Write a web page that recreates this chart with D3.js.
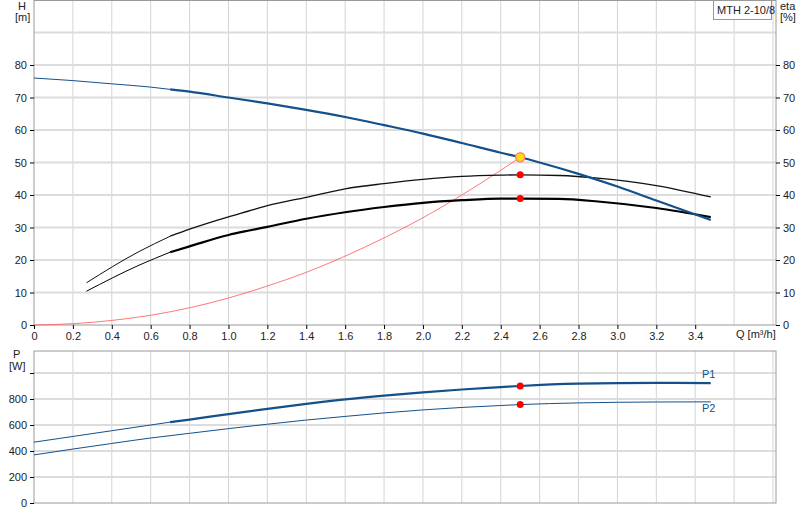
<!DOCTYPE html>
<html><head><meta charset="utf-8">
<script src="https://cdn.jsdelivr.net/npm/d3@7"></script>
<style>body{margin:0;background:#fff}text{font-family:"Liberation Sans",Arial,sans-serif;font-size:11px;fill:#222}</style>
</head><body><svg id="c" width="800" height="520"></svg>
<script>
const xTicks=[0,0.2,0.4,0.6,0.8,1.0,1.2,1.4,1.6,1.8,2.0,2.2,2.4,2.6,2.8,3.0,3.2,3.4];
const hTicks=[0,10,20,30,40,50,60,70,80];
const pTicks=[0,200,400,600,800];
const hQ=[0,0.2,0.4,0.6,0.7,0.8,1.0,1.2,1.4,1.6,1.8,2.0,2.2,2.4,2.5,2.6,2.8,3.0,3.2,3.48];
const hV=[76,75.2,74.2,73.2,72.5,71.8,70,68.2,66.2,64,61.5,58.9,56,53,51.6,50,46.5,42.6,38.3,32.3];
const eQ=[0.27,0.54,0.7,0.8,1.0,1.1,1.2,1.4,1.6,1.8,2.0,2.2,2.4,2.5,2.7,2.9,3.2,3.48];
const e1V=[13,22.6,27.3,29.5,33.3,35,36.7,39.3,41.9,43.5,44.8,45.7,46.1,46.2,46,45.2,42.9,39.4];
const e2V=[10.4,18.4,22.4,24.2,27.7,29,30.2,32.7,34.7,36.3,37.6,38.4,38.9,38.9,38.8,38,36,33.2];
const sQ=[0,0.2,0.4,0.6,0.8,1.0,1.2,1.4,1.6,1.8,2.0,2.2,2.4,2.5];
const sV=[0,0.4,1.4,3,5.3,8.3,12,16.2,21.2,26.8,33,40,47.6,51.6];
const pQ=[0,0.2,0.4,0.6,0.7,0.8,1.0,1.2,1.4,1.6,1.8,2.0,2.2,2.4,2.5,2.8,3.2,3.48];
const p1V=[468,512,556,600,622,642,684,724,762,797,826,851,873,891,900,918,924,922];
const p2V=[370,415,458,500,518,536,572,606,638,666,693,716,735,750,757,770,777,778];
const duty={q:2.5,h:51.6,e1:46.2,e2:38.9,p1:900,p2:757};

const svg=d3.select("#c");
const x=d3.scaleLinear().domain([0,3.8]).range([34,773]);
const yH=d3.scaleLinear().domain([0,100]).range([325,0]);
const yP=d3.scaleLinear().domain([0,1000]).range([503,373]);
const grid="#d4d4d4";
function frame(y0,y1){
  svg.append("rect").attr("x",34).attr("y",y0).attr("width",742).attr("height",y1-y0).attr("fill","none").attr("stroke","#999");
}
const gT=svg.append("g");
d3.range(0.2,3.81,0.2).forEach(v=>gT.append("line").attr("x1",x(v)).attr("x2",x(v)).attr("y1",0).attr("y2",325).attr("stroke",grid));
d3.range(10,91,10).forEach(v=>gT.append("line").attr("x1",34).attr("x2",776).attr("y1",yH(v)).attr("y2",yH(v)).attr("stroke","#dcdcdc").attr("stroke-width",2));
frame(0.5,325);
svg.append("g").attr("transform","translate(34,0)").call(d3.axisLeft(yH).tickValues(hTicks).tickSize(4).tickFormat(d3.format("d"))).call(g=>g.select(".domain").remove());
svg.append("g").attr("transform","translate(776,0)").call(d3.axisRight(yH).tickValues(hTicks).tickSize(4).tickFormat(d3.format("d"))).call(g=>g.select(".domain").remove());
svg.append("g").attr("transform","translate(0,325)").call(d3.axisBottom(x).tickValues(xTicks).tickSize(4).tickFormat(d=>d===0?"0":d3.format(".1f")(d))).call(g=>g.select(".domain").remove());
svg.append("text").attr("x",736).attr("y",338).text("Q [m³/h]");
svg.append("text").attr("x",18).attr("y",10).text("H");
svg.append("text").attr("x",15).attr("y",21).text("[m]");
svg.append("text").attr("x",780).attr("y",10).text("eta");
svg.append("text").attr("x",780).attr("y",21).text("[%]");
svg.append("rect").attr("x",713.5).attr("y",0.5).attr("width",58).attr("height",19).attr("fill","#fff").attr("stroke","#999");
svg.append("text").attr("x",717).attr("y",14).text("MTH 2-10/8");

const line=(ys)=>d3.line().x(d=>x(d[0])).y(d=>ys(d[1])).curve(d3.curveMonotoneX);
function draw(qs,vs,ys,color,w,from){
  const pts=qs.map((q,i)=>[q,vs[i]]);
  const thin=pts.filter(d=>d[0]<=from), thick=pts.filter(d=>d[0]>=from);
  if(thin.length>1) svg.append("path").attr("d",line(ys)(thin)).attr("fill","none").attr("stroke",color).attr("stroke-width",1);
  svg.append("path").attr("d",line(ys)(thick)).attr("fill","none").attr("stroke",color).attr("stroke-width",w);
}
svg.append("path").attr("d",line(yH)(sQ.map((q,i)=>[q,sV[i]]))).attr("fill","none").attr("stroke","#ff5555").attr("stroke-width",0.8);
draw(eQ,e1V,yH,"#111",1.3,0.7);
draw(eQ,e2V,yH,"#000",2.2,0.7);
draw(hQ,hV,yH,"#14508a",2.2,0.7);
svg.append("circle").attr("cx",x(duty.q)).attr("cy",yH(duty.h)).attr("r",4.5).attr("fill","#ffe000").attr("stroke","#ff8080").attr("stroke-width",1.5);
[duty.e1,duty.e2].forEach(v=>svg.append("circle").attr("cx",x(duty.q)).attr("cy",yH(v)).attr("r",3.5).attr("fill","#f00"));

const gB=svg.append("g");
d3.range(0.2,3.81,0.2).forEach(v=>gB.append("line").attr("x1",x(v)).attr("x2",x(v)).attr("y1",351).attr("y2",503).attr("stroke",grid));
[200,400,600,800,1000].forEach(v=>gB.append("line").attr("x1",34).attr("x2",776).attr("y1",yP(v)).attr("y2",yP(v)).attr("stroke","#dcdcdc").attr("stroke-width",2));
frame(351,503);
svg.append("g").attr("transform","translate(34,0)").call(d3.axisLeft(yP).tickValues(pTicks.concat([1000])).tickSize(4).tickFormat(d=>d===1000?"":d)).call(g=>g.select(".domain").remove());
svg.append("text").attr("x",13).attr("y",358).text("P");
svg.append("text").attr("x",9).attr("y",370).text("[W]");
draw(pQ,p1V,yP,"#14508a",2.2,0.7);
draw(pQ,p2V,yP,"#14508a",1.2,3.5);
[duty.p1,duty.p2].forEach(v=>svg.append("circle").attr("cx",x(duty.q)).attr("cy",yP(v)).attr("r",3.5).attr("fill","#f00"));
svg.append("text").attr("x",702).attr("y",378).style("fill","#14508a").text("P1");
svg.append("text").attr("x",702).attr("y",412).style("fill","#14508a").text("P2");
</script></body></html>
